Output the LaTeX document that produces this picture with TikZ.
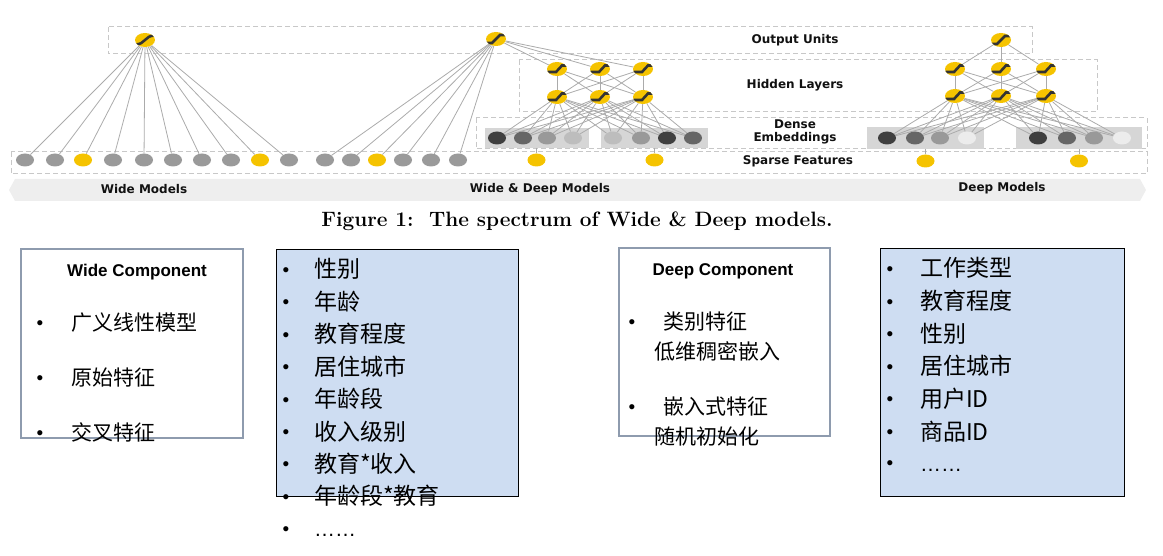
\documentclass[tikz,border=0pt]{standalone}
\usepackage{fontspec}
\newfontfamily\cjk{Noto Sans CJK SC}
\newfontfamily\arialf{Liberation Sans}
\newfontfamily\verdf{DejaVu Sans}
\usetikzlibrary{shapes.geometric}
\pgfdeclarelayer{back}
\pgfdeclarelayer{mid}
\pgfsetlayers{back,mid,main}
\definecolor{dashgray}{HTML}{C8C8C8}
\definecolor{nodegray}{HTML}{9A9A9A}
\definecolor{nodeyellow}{HTML}{F5C300}
\definecolor{glyphc}{HTML}{333333}
\definecolor{edgec}{HTML}{ABABAB}
\definecolor{eboxc}{HTML}{D6D6D6}
\definecolor{bandc}{HTML}{EEEEEE}
\definecolor{labc}{HTML}{111111}
\definecolor{eA}{HTML}{3F3F3F}
\definecolor{eB}{HTML}{666666}
\definecolor{eC}{HTML}{999999}
\definecolor{eD}{HTML}{BDBDBD}
\definecolor{eE}{HTML}{ECECEC}
\definecolor{compc}{HTML}{8E9BAE}
\definecolor{bluef}{HTML}{CEDDF2}
\begin{document}
\begin{tikzpicture}[x=1pt,y=-1pt,
  dbox/.style={draw=dashgray, line width=1pt, dash pattern=on 5pt off 3pt},
  nd/.style={ellipse, inner sep=0pt, minimum width=18pt, minimum height=13pt},
  gnd/.style={nd, fill=nodegray},
  ynd/.style={nd, fill=nodeyellow},
  glyph/.style={draw=glyphc, line width=2.6pt},
  act/.style={nd, fill=nodeyellow, minimum width=20pt, minimum height=14pt},
  relu/.style={act, path picture={\draw[glyph] ([xshift=-10pt,yshift=-3pt]path picture bounding box.center) -- ++(9pt,0pt) -- ++(6pt,6.5pt) -- ++(6pt,0pt);}},
  outu/.style={act, path picture={\draw[glyph] ([xshift=-10pt,yshift=-4pt]path picture bounding box.center) -- ++(6pt,0pt) -- ++(8pt,8pt) -- ++(6pt,0pt);}},
  sigm/.style={act, path picture={\draw[glyph] ([xshift=-10pt,yshift=-4.5pt]path picture bounding box.center) .. controls ([xshift=1pt,yshift=-4.5pt]path picture bounding box.center) and ([xshift=-1pt,yshift=4.5pt]path picture bounding box.center) .. ([xshift=10pt,yshift=4.5pt]path picture bounding box.center);}},
  edge/.style={draw=edgec, line width=0.8pt},
  ebox/.style={fill=eboxc, inner sep=0pt},
  lab/.style={font=\verdf\bfseries\fontsize{12}{14}\selectfont, text=labc, align=center},
  compbox/.style={draw=compc, line width=2.6pt, inner sep=0pt},
  bluebox/.style={draw=black, fill=bluef, line width=0.9pt, inner sep=0pt},
  ctitle/.style={font=\arialf\bfseries\fontsize{17}{19}\selectfont},
  bul/.style={font=\arialf\fontsize{19}{21}\selectfont, anchor=base, inner sep=0pt},
  sitem/.style={font=\cjk\fontsize{21}{24}\selectfont, anchor=base west, inner sep=0pt},
  bitem/.style={font=\cjk\fontsize{23}{26}\selectfont, anchor=base west, inner sep=0pt}
]
\useasboundingbox (0,0) rectangle (1163,556);

% ---------- background: dashed layer boxes, band, embedding boxes
\begin{pgfonlayer}{back}
\draw[dbox] (108,27) rectangle (1032,54);
\draw[dbox] (519,60) rectangle (1097,112);
\draw[dbox] (476,118) rectangle (1147,149);
\draw[dbox] (11,152) rectangle (1147,174);
\fill[bandc] (9,190) -- (15,179) -- (1140,179) -- (1146,190) -- (1140,201) -- (15,201) -- cycle;
\node[ebox, minimum width=104pt, minimum height=20pt] (wdeb1) at (536.5,138) {};
\node[ebox, minimum width=107pt, minimum height=20pt] (wdeb2) at (654.5,138) {};
\node[ebox, minimum width=117pt, minimum height=22pt] (deb1) at (925.5,138) {};
\node[ebox, minimum width=126pt, minimum height=22pt] (deb2) at (1079,138) {};
\end{pgfonlayer}

% ---------- labels
\node[lab] (lout) at (795,40) {Output Units};
\node[lab] (lhid) at (795,85) {Hidden Layers};
\node[lab, font=\verdf\bfseries\fontsize{12}{12.5}\selectfont] (lden) at (795,132) {Dense\\Embeddings};
\node[lab] (lspa) at (798,161.5) {Sparse Features};
\node[lab] (lwm) at (144,189) {Wide Models};
\node[lab] (lwdm) at (540,189) {Wide \& Deep Models};
\node[lab] (ldm) at (1002,188) {Deep Models};
\node[font=\bfseries\fontsize{20.8}{23}\selectfont] (cap) at (577,221) {Figure 1:\ \ The spectrum of Wide \& Deep models.};

% ---------- Wide model
\node[sigm] (wout) at (145,40) {};
\foreach \x [count=\i] in {25,55,83,113,144,173,202,231,260,289} {
  \ifnum\i=3 \node[ynd] (ws\i) at (\x,160) {};
  \else\ifnum\i=9 \node[ynd] (ws\i) at (\x,160) {};
  \else \node[gnd] (ws\i) at (\x,160) {};
  \fi\fi
}
\begin{pgfonlayer}{mid}
\foreach \i in {1,...,10} \draw[edge] (wout) -- (ws\i);
\end{pgfonlayer}

% ---------- Wide & Deep model
\node[outu] (wdout) at (496,39) {};
\node[relu] (wdt1) at (557,69) {};
\node[relu] (wdt2) at (600,69) {};
\node[relu] (wdt3) at (643,69) {};
\node[relu] (wdb1) at (557,97) {};
\node[relu] (wdb2) at (600,97) {};
\node[relu] (wdb3) at (643,97) {};
\foreach \x/\c [count=\i] in {497/eA,523/eB,547/eC,573/eD,613/eD,641/eC,667/eA,693/eB}
  \node[nd, fill=\c] (wde\i) at (\x,138) {};
\node[ynd] (wds1) at (536.5,160) {};
\node[ynd] (wds2) at (654.5,160) {};
\foreach \x [count=\i] in {325,351,377,403,431,458} {
  \ifnum\i=3 \node[ynd] (wdw\i) at (\x,160) {};
  \else \node[gnd] (wdw\i) at (\x,160) {};
  \fi
}
\begin{pgfonlayer}{mid}
\foreach \i in {1,...,6} \draw[edge] (wdout) -- (wdw\i);
\foreach \i in {1,2,3} \draw[edge] (wdout) -- (wdt\i);
\foreach \i in {1,2,3} \foreach \j in {1,2,3} \draw[edge] (wdt\i) -- (wdb\j);
\foreach \i in {1,2,3} \foreach \j in {1,...,8} \draw[edge] (wdb\i) -- (wde\j);
\draw[edge] (wds1) -- (wdeb1);
\draw[edge] (wds2) -- (wdeb2);
\end{pgfonlayer}

% ---------- Deep model
\node[outu] (dout) at (1001,40) {};
\node[relu] (dt1) at (955,69) {};
\node[relu] (dt2) at (1001,69) {};
\node[relu] (dt3) at (1046,69) {};
\node[relu] (db1) at (955,96) {};
\node[relu] (db2) at (1001,96) {};
\node[relu] (db3) at (1046,96) {};
\foreach \x/\c [count=\i] in {887/eA,915/eB,940/eC,967/eE,1038/eA,1067/eB,1094/eC,1122/eE}
  \node[nd, fill=\c] (de\i) at (\x,138) {};
\node[ynd] (ds1) at (925.5,161) {};
\node[ynd] (ds2) at (1079,161) {};
\begin{pgfonlayer}{mid}
\foreach \i in {1,2,3} \draw[edge] (dout) -- (dt\i);
\foreach \i in {1,2,3} \foreach \j in {1,2,3} \draw[edge] (dt\i) -- (db\j);
\foreach \i in {1,2,3} \foreach \j in {1,...,8} \draw[edge] (db\i) -- (de\j);
\draw[edge] (ds1) -- (deb1);
\draw[edge] (ds2) -- (deb2);
\end{pgfonlayer}

% ---------- bottom: Wide Component
\node[compbox, minimum width=222pt, minimum height=189pt] (wc) at (132,343.5) {};
\node[ctitle] (wct) at (137,272) {Wide Component};
\foreach \t/\y [count=\i] in {广义线性模型/323,原始特征/378,交叉特征/433} {
  \node[bul] (wcb\i) at (40,\y+6.5) {•};
  \node[sitem] (wci\i) at (71,\y+7.5) {\t};
}

% ---------- bottom: left blue box
\node[bluebox, minimum width=242pt, minimum height=247pt] (bl) at (397,372.5) {};
\foreach \t [count=\i from 0] in {性别,年龄,教育程度,居住城市,年龄段,收入级别,教育*收入,年龄段*教育} {
  \node[bul] (blb\i) at (286,270+32.4*\i+6.5) {•};
  \node[bitem] (bli\i) at (314,270+32.4*\i+8) {\t};
}
\node[bul] (blb8) at (286,529+6.5) {•};
\node[bitem, font=\arialf\fontsize{21}{24}\selectfont] (bli8) at (314,536) {……};

% ---------- bottom: Deep Component
\node[compbox, minimum width=211pt, minimum height=188pt] (dc) at (724.5,342) {};
\node[ctitle] (dct) at (723,271) {Deep Component};
\node[bul] (dcb1) at (632,322+6.5) {•};
\node[sitem] (dci1) at (663,322+7.5) {类别特征};
\node[sitem] (dci2) at (654,352+7.5) {低维稠密嵌入};
\node[bul] (dcb2) at (632,407+6.5) {•};
\node[sitem] (dci3) at (663,407+7.5) {嵌入式特征};
\node[sitem] (dci4) at (654,437+7.5) {随机初始化};

% ---------- bottom: right blue box
\node[bluebox, minimum width=244pt, minimum height=248pt] (br) at (1002,372) {};
\foreach \t [count=\i from 0] in {工作类型,教育程度,性别,居住城市,用户ID,商品ID} {
  \node[bul] (brb\i) at (890,269+32.6*\i+6.5) {•};
  \node[bitem] (bri\i) at (920,269+32.6*\i+8) {\t};
}
\node[bul] (brb6) at (890,463+6.5) {•};
\node[bitem, font=\arialf\fontsize{21}{24}\selectfont] (bri6) at (920,471) {……};
\end{tikzpicture}
\end{document}
